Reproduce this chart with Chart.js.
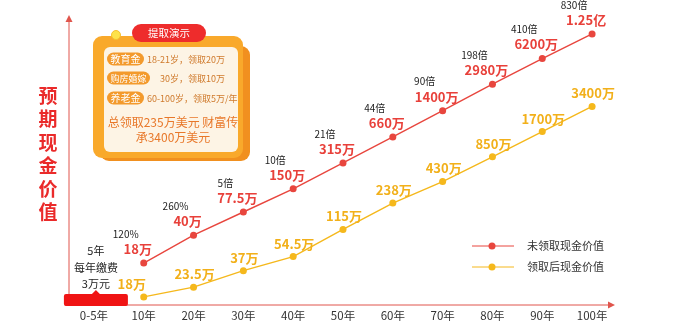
<!DOCTYPE html>
<html>
<head>
<meta charset="utf-8">
<script src="https://cdn.jsdelivr.net/npm/chart.js@4.4.1/dist/chart.umd.min.js"></script>
<style>
  html, body { margin: 0; padding: 0; background: #fff; }
  #wrap { width: 690px; height: 325px; position: relative; }
</style>
</head>
<body>
<div id="wrap"><canvas id="c" width="690" height="325"></canvas></div>
<script>
// Policy years on the x axis
const categories = ['0-5年', '10年', '20年', '30年', '40年', '50年', '60年', '70年', '80年', '90年', '100年'];
// Cash value in 万 (10,000) units, from year 10 to year 100
const unclaimedValues = [18, 40, 77.5, 150, 315, 660, 1400, 2980, 6200, 12500];
const claimedValues = [18, 23.5, 37, 54.5, 115, 238, 430, 850, 1700, 3400];
// Growth multiple over total premiums, shown above the unclaimed series
const multipleLabels = ['120%', '260%', '5倍', '10倍', '21倍', '44倍', '90倍', '198倍', '410倍', '830倍'];
const seriesNames = ['未领取现金价值', '领取后现金价值'];
const yTitle = '预期现金价值';
const payNote = ['5年', '每年缴费', '3万元'];
const cardTitle = '提取演示';
const cardRows = [['教育金', '18-21岁，领取20万'], ['购房婚嫁', '30岁，领取10万'], ['养老金', '60-100岁，领取5万/年']];
const cardSummary = ['总领取235万美元 财富传', '承3400万美元'];

const RED = '#e8463e';
const YELLOW = '#f5b81c';
const FONT = '"Noto Sans CJK SC", "Noto Sans", sans-serif';

function fmt(v) {
  return v >= 10000 ? (v / 10000) + '亿' : v + '万';
}

function roundRect(ctx, x, y, w, h, r, fill) {
  ctx.beginPath();
  ctx.roundRect(x, y, w, h, r);
  ctx.fillStyle = fill;
  ctx.fill();
}

const decor = {
  id: 'decor',
  beforeDatasetsDraw(chart) {
    const ctx = chart.ctx;
    const a = chart.chartArea;
    const xs = chart.scales.x;
    ctx.save();

    // axes with arrowheads
    const ax = a.left, ay = a.bottom + 1;
    ctx.strokeStyle = '#e0554c';
    ctx.fillStyle = '#e0554c';
    ctx.lineWidth = 1;
    ctx.beginPath();
    ctx.moveTo(ax, ay); ctx.lineTo(ax, a.top + 4);
    ctx.moveTo(ax - 4, ay); ctx.lineTo(a.right - 6, ay);
    ctx.stroke();
    ctx.beginPath();
    ctx.moveTo(ax, a.top); ctx.lineTo(ax - 3.5, a.top + 7); ctx.lineTo(ax + 3.5, a.top + 7); ctx.closePath(); ctx.fill();
    ctx.beginPath();
    ctx.moveTo(a.right - 2, ay); ctx.lineTo(a.right - 9, ay - 3.5); ctx.lineTo(a.right - 9, ay + 3.5); ctx.closePath(); ctx.fill();

    // vertical axis title
    ctx.fillStyle = '#ea2a2a';
    ctx.font = 'bold 19px ' + FONT;
    ctx.textAlign = 'center';
    ctx.textBaseline = 'middle';
    [...yTitle].forEach((ch, i) => ctx.fillText(ch, 48, 96 + i * 23.2));

    // premium period marker under the first category
    const px = xs.getPixelForValue(0) + 2;
    roundRect(ctx, px - 32, ay - 11, 64, 12, 2, '#f01414');
    ctx.beginPath();
    ctx.moveTo(px - 5, ay - 10); ctx.lineTo(px, ay - 15); ctx.lineTo(px + 5, ay - 10); ctx.closePath();
    ctx.fillStyle = '#f01414'; ctx.fill();
    ctx.fillStyle = '#222';
    ctx.font = '11px ' + FONT;
    payNote.forEach((t, i) => ctx.fillText(t, px, 251 + i * 16.5));

    // withdrawal card
    roundRect(ctx, 100, 46, 150, 115, 9, '#f1901f');
    roundRect(ctx, 93, 36, 150, 122, 9, '#f9a92b');
    roundRect(ctx, 104, 47, 134, 105, 6, '#fdf4e5');
    roundRect(ctx, 132, 24, 74, 18, 9, '#ee2c2c');
    ctx.fillStyle = '#fff';
    ctx.font = '10.5px ' + FONT;
    ctx.fillText(cardTitle, 169, 33.5);
    ctx.beginPath(); ctx.arc(116, 35, 4.5, 0, Math.PI * 2);
    ctx.fillStyle = '#fde24a'; ctx.fill();
    ctx.strokeStyle = '#f5c030'; ctx.stroke();

    const rowY = [59, 78, 98];
    cardRows.forEach((r, i) => {
      const tagFont = r[0].length > 3 ? 9 : 10;
      const w = r[0].length * tagFont + 7;
      roundRect(ctx, 107, rowY[i] - 6.5, w, 13, 6.5, '#f39a2c');
      ctx.fillStyle = '#fff';
      ctx.font = tagFont + 'px ' + FONT;
      ctx.textAlign = 'center';
      ctx.fillText(r[0], 107 + w / 2, rowY[i] + 0.5);
      ctx.fillStyle = '#cf7a2c';
      ctx.font = '9px ' + FONT;
      ctx.textAlign = 'left';
      ctx.fillText(r[1], 107 + w + (i === 1 ? 10 : 3), rowY[i] + 0.5);
    });
    ctx.fillStyle = '#e8782a';
    ctx.font = '12px ' + FONT;
    ctx.textAlign = 'center';
    cardSummary.forEach((t, i) => ctx.fillText(t, 173, 122 + i * 15.5));

    // legend
    const legend = [[seriesNames[0], RED, 246], [seriesNames[1], YELLOW, 267]];
    legend.forEach(([name, col, y]) => {
      ctx.strokeStyle = col; ctx.lineWidth = 1;
      ctx.beginPath(); ctx.moveTo(472, y); ctx.lineTo(514, y); ctx.stroke();
      ctx.beginPath(); ctx.arc(492, y, 3.5, 0, Math.PI * 2); ctx.fillStyle = col; ctx.fill();
      ctx.fillStyle = '#333';
      ctx.font = '11px ' + FONT;
      ctx.textAlign = 'left';
      ctx.fillText(name, 527, y);
    });
    ctx.restore();
  },
  afterDatasetsDraw(chart) {
    const ctx = chart.ctx;
    ctx.save();
    ctx.textAlign = 'center';
    ctx.textBaseline = 'middle';
    const red = chart.getDatasetMeta(0).data;
    const yel = chart.getDatasetMeta(1).data;
    unclaimedValues.forEach((v, i) => {
      const p = red[i + 1];
      ctx.fillStyle = '#e8403a';
      ctx.font = 'bold 13px ' + FONT;
      ctx.fillText(fmt(v), p.x - 6, p.y - 14);
      ctx.fillStyle = '#222';
      ctx.font = '10px ' + FONT;
      ctx.fillText(multipleLabels[i], p.x - 18, p.y - 29);
    });
    claimedValues.forEach((v, i) => {
      const p = yel[i + 1];
      ctx.fillStyle = '#f2b01a';
      ctx.font = 'bold 13px ' + FONT;
      ctx.fillText(fmt(v), p.x + (i === 0 ? -12 : 1), p.y - 13);
    });
    ctx.restore();
  }
};

new Chart(document.getElementById('c'), {
  type: 'line',
  data: {
    labels: categories,
    datasets: [
      {
        label: seriesNames[0],
        data: [null, ...unclaimedValues],
        yAxisID: 'yR',
        borderColor: RED,
        backgroundColor: RED,
        borderWidth: 1.4,
        pointRadius: 3.5,
        pointBorderWidth: 0,
        tension: 0
      },
      {
        label: seriesNames[1],
        data: [null, ...claimedValues],
        yAxisID: 'yY',
        borderColor: YELLOW,
        backgroundColor: YELLOW,
        borderWidth: 1.4,
        pointRadius: 3.5,
        pointBorderWidth: 0,
        tension: 0
      }
    ]
  },
  options: {
    responsive: false,
    animation: false,
    devicePixelRatio: 1,
    layout: { padding: { left: 69, right: 73, top: 15, bottom: 0 } },
    plugins: { legend: { display: false }, tooltip: { enabled: false } },
    scales: {
      x: {
        offset: true,
        grid: { display: false, drawTicks: false },
        border: { display: false },
        ticks: { color: '#333', font: { size: 11.5, family: FONT }, padding: 5, maxRotation: 0, autoSkip: false },
        afterFit(s) { s.height = 21; }
      },
      yR: { type: 'logarithmic', display: false, min: 5.6, max: 21500, bounds: 'data' },
      yY: { type: 'logarithmic', display: false, min: 14.8, max: 42000, bounds: 'data' }
    }
  },
  plugins: [decor]
});
</script>
</body>
</html>
